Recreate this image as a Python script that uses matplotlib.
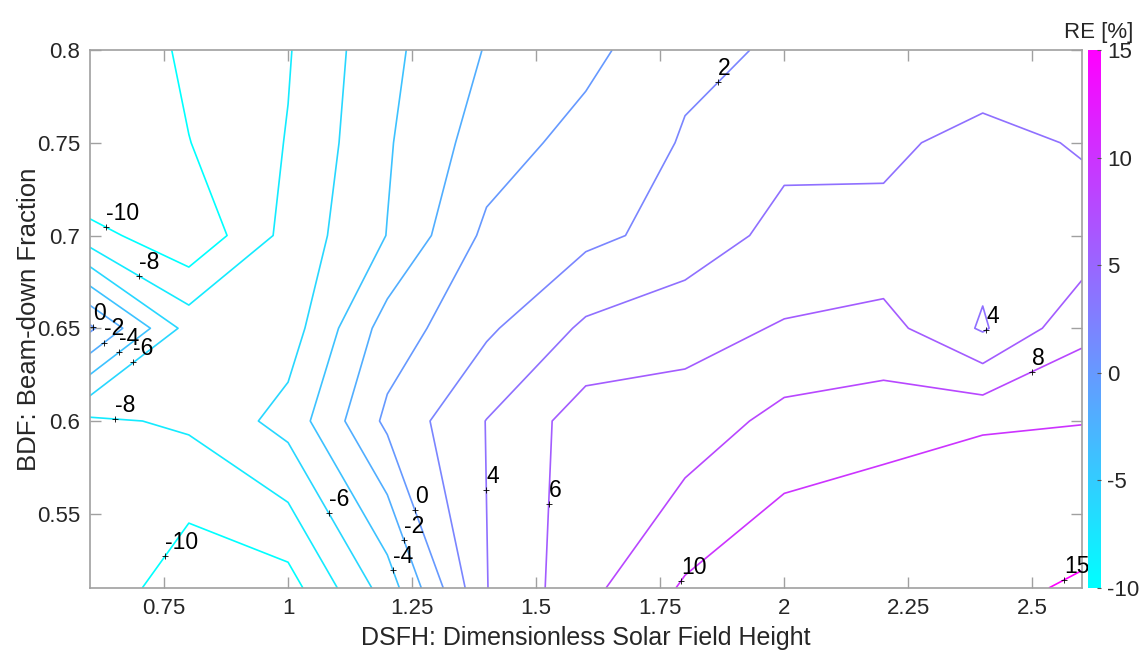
import numpy as np
import matplotlib
matplotlib.use("Agg")
import matplotlib.pyplot as plt
from matplotlib import cm, colors

# ---------------- data ----------------
dsfh = [0.6, 0.8, 1.0, 1.2, 1.4, 1.6, 1.8, 2.0, 2.2, 2.4, 2.6]
bdf = [0.51, 0.6, 0.65, 0.7, 0.75, 0.8]

re_051 = [-8.34, -11.47, -10.86, -5.1, 3.95, 7.42, 10.26, 11.79, 12.9, 13.8, 15.6]
re_060 = [-8.36, -7.685, -5.28, 0.45, 4.05, 7.0, 6.83, 8.63, 8.98, 9.65, 9.87]
re_065 = [0.4, -6.78, -7.0, -1.1, 1.65, 4.36, 5.35, 6.15, 6.75, 3.76, 7.49]
re_070 = [-9.2, -11.66, -7.35, -3.95, 0.44, 1.5, 2.75, 4.67, 4.4, 4.76, 4.62]
re_075 = [-13.6, -10.05, -7.9, -4.2, -1.0, 0.75, 2.14, 3.43, 3.69, 4.5, 3.86]
re_080 = [-12.4, -9.5, -8.14, -4.5, -1.88, -0.6, 1.66, 2.18, 2.8, 2.94, 3.2]

levels = [-10, -8, -6, -4, -2, 0, 2, 4, 6, 8, 10, 15]

x_ticks = [0.75, 1, 1.25, 1.5, 1.75, 2, 2.25, 2.5]
x_ticklabels = ["0.75", "1", "1.25", "1.5", "1.75", "2", "2.25", "2.5"]
y_ticks = [0.55, 0.6, 0.65, 0.7, 0.75, 0.8]
y_ticklabels = ["0.55", "0.6", "0.65", "0.7", "0.75", "0.8"]
cbar_ticks = [-10, -5, 0, 5, 10, 15]
cbar_ticklabels = ["-10", "-5", "0", "5", "10", "15"]

# approximate spots where the contour labels sit (level, x, y)
label_spots = [
    (-10, 0.633, 0.704), (-8, 0.70, 0.678), (0, 0.604, 0.650), (-2, 0.63, 0.642),
    (-4, 0.66, 0.637), (-6, 0.687, 0.632), (-8, 0.652, 0.601), (-10, 0.752, 0.527),
    (-6, 1.085, 0.551), (-4, 1.212, 0.52), (-2, 1.236, 0.536), (0, 1.256, 0.552),
    (4, 1.397, 0.563), (6, 1.525, 0.555), (10, 1.79, 0.514), (15, 2.56, 0.516),
    (8, 2.50, 0.626), (4, 2.407, 0.649), (2, 1.869, 0.782),
]

# ---------------- figure ----------------
plt.rcParams['font.family'] = ['Liberation Sans', 'DejaVu Sans']
plt.rcParams['axes.unicode_minus'] = False
fig = plt.figure(figsize=(11.4, 6.54), dpi=100)
ax = fig.add_axes([0.0786, 0.101, 0.8705, 0.8225])
cax = fig.add_axes([0.9545, 0.101, 0.0115, 0.8225])

X, Y = np.meshgrid(dsfh, bdf)
Z = np.array([re_051, re_060, re_065, re_070, re_075, re_080])

cmap = plt.get_cmap('cool')
norm = colors.Normalize(vmin=-10, vmax=15)
cs = ax.contour(X, Y, Z, levels=levels, cmap=cmap, norm=norm, linewidths=1.2)

ax.set_xlim(0.6, 2.6)
ax.set_ylim(0.51, 0.8)

frame_col = '#a0a0a0'
text_col = '#262626'
ax.set_xticks(x_ticks)
ax.set_xticklabels(x_ticklabels)
ax.set_yticks(y_ticks)
ax.set_yticklabels(y_ticklabels)
ax.tick_params(direction='in', length=8, width=1.0, color=frame_col, labelsize=16,
               labelcolor=text_col, top=True, right=True, pad=7)
for s in ax.spines.values():
    s.set_color(frame_col)
    s.set_linewidth(1.2)
ax.set_xlabel('DSFH: Dimensionless Solar Field Height', fontsize=18, color=text_col, labelpad=5)
ax.set_ylabel('BDF: Beam-down Fraction', fontsize=18.5, color=text_col, labelpad=-3)

# contour labels in MATLAB style: '+' marker on the line with text beside it
fig.canvas.draw()
trans = ax.transData
paths = cs.get_paths()
for lev, lx, ly in label_spots:
    idx = levels.index(lev)
    target = trans.transform((lx, ly))
    best = None
    for poly in paths[idx].to_polygons(closed_only=False):
        if len(poly) < 2:
            continue
        P = trans.transform(poly)
        for i in range(len(P) - 1):
            a, b = P[i], P[i + 1]
            d = b - a
            L2 = float(d @ d)
            t = 0.0 if L2 == 0 else float(np.clip((target - a) @ d / L2, 0, 1))
            q = a + t * d
            dist = float(np.hypot(*(q - target)))
            if best is None or dist < best[0]:
                best = (dist, q)
    if best is None:
        continue
    qx, qy = trans.inverted().transform(best[1])
    ax.plot(qx, qy, marker='+', color='k', ms=4, mew=0.6, zorder=5)
    ax.annotate(f"{lev}", (qx, qy), xytext=(0, 1.5), textcoords='offset points',
                ha='left', va='bottom', fontsize=16.5, color='k', zorder=6)

# colorbar (continuous)
sm = cm.ScalarMappable(norm=norm, cmap=cmap)
cb = fig.colorbar(sm, cax=cax)
cb.set_ticks(cbar_ticks)
cb.set_ticklabels(cbar_ticklabels)
cb.outline.set_visible(False)
cax.tick_params(direction='in', length=3, width=0.8, color='#555555', labelsize=16,
                labelcolor=text_col, pad=4)
fig.text(0.994, 0.935, 'RE [%]', ha='right', va='bottom', fontsize=16, color=text_col)

fig.savefig('out.png', dpi=100)
